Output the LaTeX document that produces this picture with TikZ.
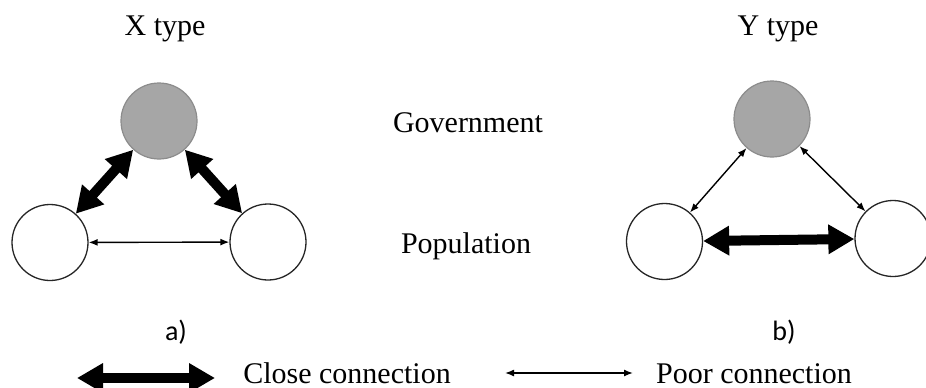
\documentclass[tikz,border=0pt]{standalone}
\usepackage{fontspec}
\setmainfont{Liberation Serif}
\newfontfamily\labelfont{Carlito}
\usetikzlibrary{arrows.meta}

\definecolor{govfill}{HTML}{A6A6A6}
\definecolor{govline}{HTML}{8C8C8C}

\tikzset{
  gov/.style={circle, minimum size=76pt, inner sep=0pt, fill=govfill, draw=govline, line width=1.2pt},
  pop/.style={circle, minimum size=76pt, inner sep=0pt, fill=white, draw=black!85, line width=1.3pt},
  txt/.style={inner sep=0pt, anchor=base, font=\fontsize{30}{36}\selectfont},
  sub/.style={inner sep=0pt, anchor=base, font=\labelfont\fontsize{28}{34}\selectfont},
  close/.style={line width=10pt, {Triangle[length=26pt,width=28pt]}-{Triangle[length=26pt,width=28pt]}},
  poor/.style={line width=1.4pt, {Latex[length=9pt,width=7pt]}-{Latex[length=9pt,width=7pt]}}
}

\begin{document}
\begin{tikzpicture}[x=1pt, y=-1pt]
  \clip (0,0) rectangle (926,388);
  \fill[white] (0,0) rectangle (926,388);

  % titles and middle labels
  \node[txt] (tx) at (165,35) {X type};
  \node[txt] (ty) at (778,35) {Y type};
  \node[txt] (govt) at (468,132) {Government};
  \node[txt] (popl) at (466,253) {Population};

  % a) X type
  \node[gov] (Lg) at (159,121) {};
  \node[pop] (La) at (50,242.5) {};
  \node[pop] (Lb) at (268,242) {};
  \draw[close] (La) -- (Lg);
  \draw[close] (Lg) -- (Lb);
  \draw[poor] (La) -- (Lb);

  % b) Y type
  \node[gov] (Rg) at (772,119) {};
  \node[pop] (Ra) at (664.5,241.5) {};
  \node[pop] (Rb) at (893,238.5) {};
  \draw[poor] (Ra) -- (Rg);
  \draw[poor] (Rg) -- (Rb);
  \draw[close] (Ra) -- (Rb);

  % sub-figure labels
  \node[sub] (la) at (176,340) {a)};
  \node[sub] (lb) at (784,340) {b)};

  % legend
  \coordinate (k1) at (77,378);
  \coordinate (k2) at (215,378);
  \coordinate (k3) at (505,373);
  \coordinate (k4) at (633,373);
  \draw[close] (k1) -- (k2);
  \draw[poor] (k3) -- (k4);
  \node[txt] (lc) at (347,383) {Close connection};
  \node[txt] (lp) at (754,383) {Poor connection};
\end{tikzpicture}
\end{document}
